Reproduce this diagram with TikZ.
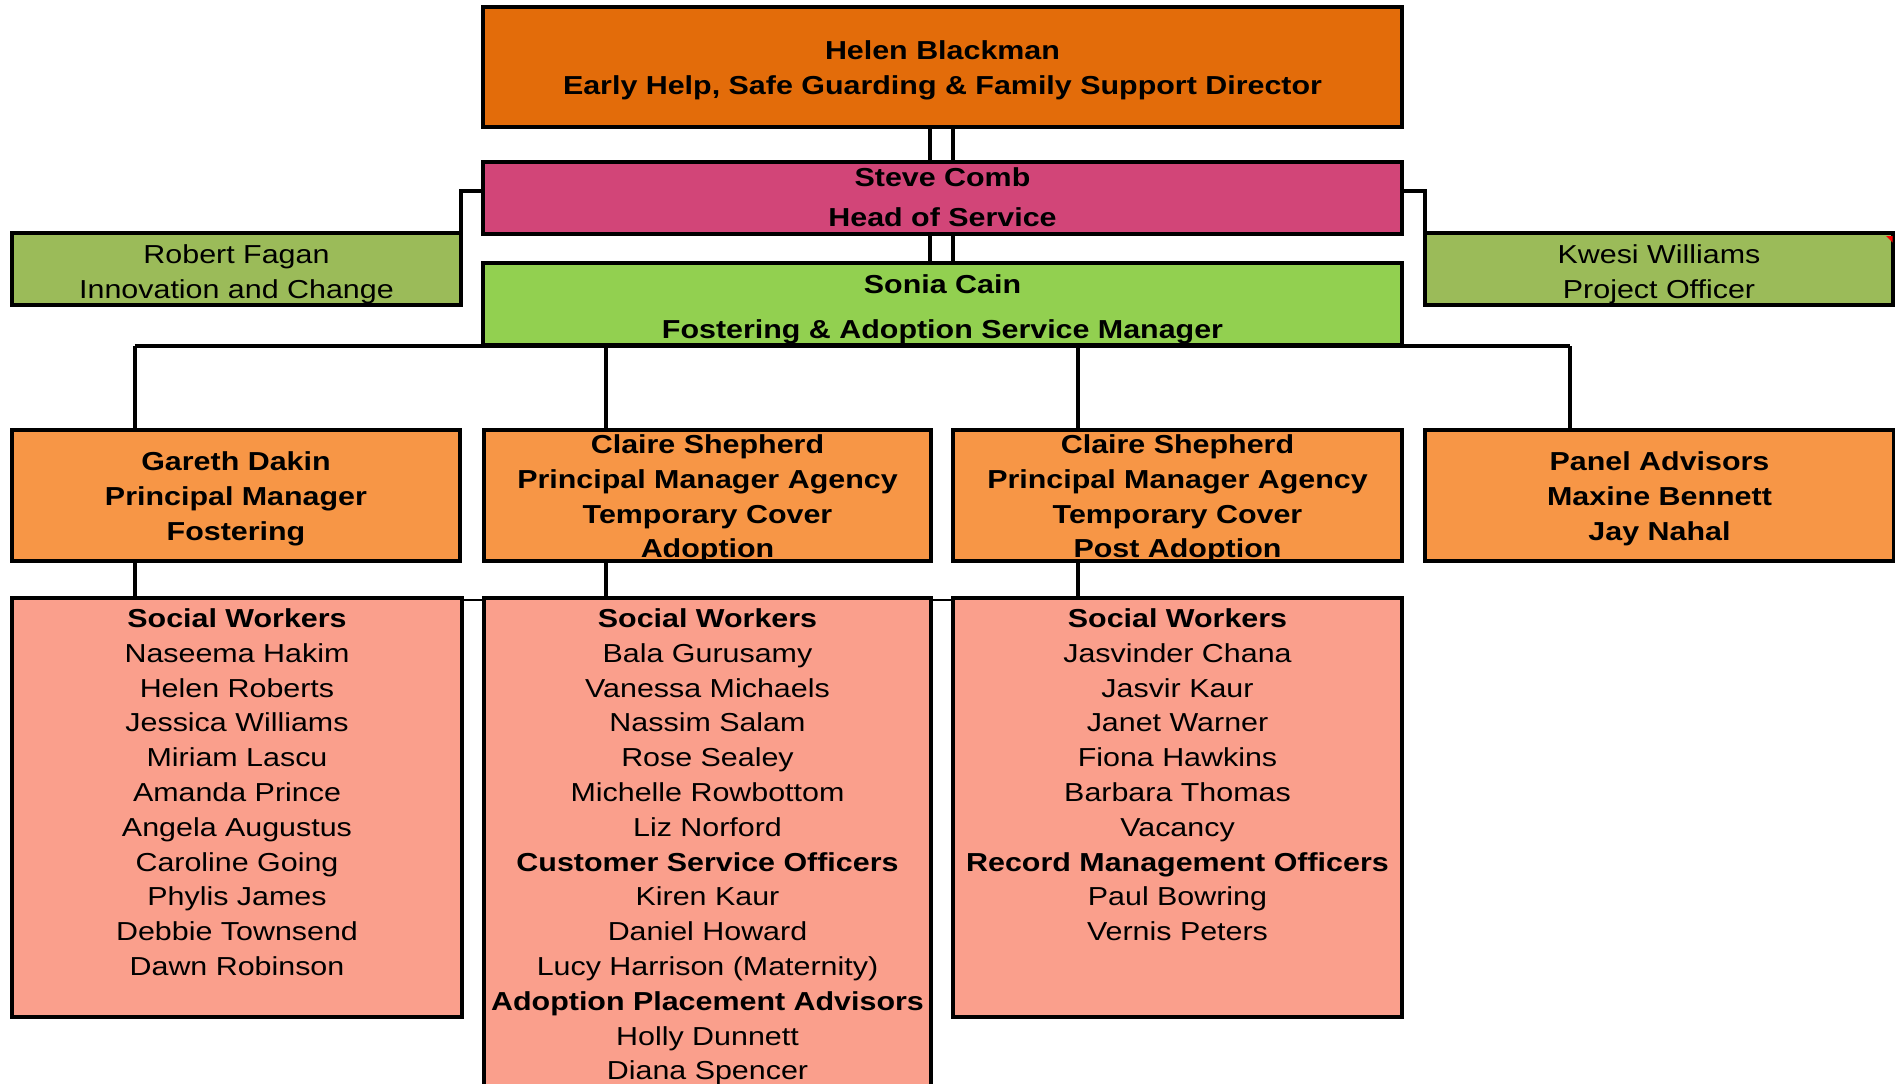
\documentclass[tikz,border=0pt]{standalone}
\usepackage{fontspec}
\setmainfont{Liberation Sans}[FakeStretch=1.17]
\usetikzlibrary{backgrounds}
\definecolor{cHelen}{HTML}{E36C0A}
\definecolor{cSteve}{HTML}{D24578}
\definecolor{cSonia}{HTML}{92D050}
\definecolor{cOlive}{HTML}{9BBB59}
\definecolor{cMgr}{HTML}{F79646}
\definecolor{cSW}{HTML}{FA9F8C}
\newcommand{\fl}{\rule{0pt}{12pt}}
\begin{document}
\begin{tikzpicture}[x=0.5pt,y=-0.5pt,
  box/.style={draw=black,line width=1.8pt,inner sep=0pt,outer sep=0pt},
  txt/.style={inner sep=0pt,align=center,anchor=north,font=\fontsize{13}{17.4}\selectfont},
  txtb/.style={txt,font=\fontsize{13}{17.4}\selectfont\bfseries},
  conn/.style={draw=black,line width=1.8pt},
  thinconn/.style={draw=black,line width=0.6pt}]
\useasboundingbox (0,0) rectangle (1895,1083);

% boxes
\node[box,fill=cHelen,minimum width=459.5pt,minimum height=60pt] (helen) at (942.5,67) {};
\node[box,fill=cSteve,minimum width=459.5pt,minimum height=36pt] (steve) at (942.5,198) {};
\node[box,fill=cSonia,minimum width=459.5pt,minimum height=41pt] (sonia) at (942.5,304) {};
\node[box,fill=cOlive,minimum width=224.5pt,minimum height=36pt] (robert) at (236.5,269) {};
\node[box,fill=cOlive,minimum width=234pt,minimum height=36pt] (kwesi) at (1659,269) {};
\node[box,fill=cMgr,minimum width=224pt,minimum height=65.5pt] (gareth) at (236,495.5) {};
\node[box,fill=cMgr,minimum width=223.5pt,minimum height=65.5pt] (claireA) at (707.5,495.5) {};
\node[box,fill=cMgr,minimum width=224.5pt,minimum height=65.5pt] (claireB) at (1177.5,495.5) {};
\node[box,fill=cMgr,minimum width=234.5pt,minimum height=65.5pt] (panel) at (1659.5,495.5) {};
\node[box,fill=cSW,minimum width=225pt,minimum height=209.5pt] (swA) at (237,807.5) {};
\node[box,fill=cSW,minimum width=223.5pt,minimum height=251pt] (swB) at (707.5,849) {};
\node[box,fill=cSW,minimum width=224.5pt,minimum height=209.5pt] (swC) at (1177.5,807.5) {};
\fill[red] (1886,236) -- (1892.5,236) -- (1892.5,242.5) -- cycle;

% texts
\node[txtb] (helenT) at (942.5,35) {\fl Helen Blackman\\Early Help, Safe Guarding \& Family Support Director};
\node[txtb] (steveT) at (942.5,162) {\fl Steve Comb\\[2.5pt]Head of Service};
\node[txtb] (soniaT) at (942.5,269) {\fl Sonia Cain\\[5pt]Fostering \& Adoption Service Manager};
\node[txt] (robertT) at (236.5,239) {\fl Robert Fagan\\Innovation and Change};
\node[txt] (kwesiT) at (1659,239) {\fl Kwesi Williams\\Project Officer};
\node[txtb] (garethT) at (236,446) {\fl Gareth Dakin\\Principal Manager\\Fostering};
\node[txtb] (claireAT) at (707.5,429) {\fl Claire Shepherd\\Principal Manager Agency\\Temporary Cover\\Adoption};
\node[txtb] (claireBT) at (1177.5,429) {\fl Claire Shepherd\\Principal Manager Agency\\Temporary Cover\\Post Adoption};
\node[txtb] (panelT) at (1659.5,446) {\fl Panel Advisors\\Maxine Bennett\\Jay Nahal};
\node[txt] (swAT) at (237,603) {\fl\textbf{Social Workers}\\Naseema Hakim\\Helen Roberts\\Jessica Williams\\Miriam Lascu\\Amanda Prince\\Angela Augustus\\Caroline Going\\Phylis James\\Debbie Townsend\\Dawn Robinson};
\node[txt] (swBT) at (707.5,603) {\fl\textbf{Social Workers}\\Bala Gurusamy\\Vanessa Michaels\\Nassim Salam\\Rose Sealey\\Michelle Rowbottom\\Liz Norford\\\textbf{Customer Service Officers}\\Kiren Kaur\\Daniel Howard\\Lucy Harrison (Maternity)\\\textbf{Adoption Placement Advisors}\\Holly Dunnett\\Diana Spencer};
\node[txt] (swCT) at (1177.5,603) {\fl\textbf{Social Workers}\\Jasvinder Chana\\Jasvir Kaur\\Janet Warner\\Fiona Hawkins\\Barbara Thomas\\Vacancy\\\textbf{Record Management Officers}\\Paul Bowring\\Vernis Peters};

% connectors
\begin{scope}[on background layer]
\draw[conn] ([xshift=-6.25pt]helen.south) -- ([xshift=-6.25pt]steve.north);
\draw[conn] ([xshift=5.25pt]helen.south) -- ([xshift=5.25pt]steve.north);
\draw[conn] ([xshift=-6.25pt]steve.south) -- ([xshift=-6.25pt]sonia.north);
\draw[conn] ([xshift=5.25pt]steve.south) -- ([xshift=5.25pt]sonia.north);
\draw[conn] ([yshift=3.5pt]steve.west) -| (robert.north east);
\draw[conn] ([yshift=3.5pt]steve.east) -| (kwesi.north west);
\coordinate (dA) at (135,346);
\coordinate (dB) at (606,346);
\coordinate (dC) at (1078,346);
\coordinate (dD) at (1570,346);
\draw[conn] (dA) -- (dD);
\draw[conn] (dA) -- (dA |- gareth.north);
\draw[conn] (dB) -- (dB |- claireA.north);
\draw[conn] (dC) -- (dC |- claireB.north);
\draw[conn] (dD) -- (dD |- panel.north);
\draw[conn] (dA |- gareth.south) -- (dA |- swA.north);
\draw[conn] (dB |- claireA.south) -- (dB |- swB.north);
\draw[conn] (dC |- claireB.south) -- (dC |- swC.north);
\draw[thinconn] ([yshift=-1pt]swA.north east) -- ([yshift=-1pt]swC.north west);
\end{scope}
\end{tikzpicture}
\end{document}
